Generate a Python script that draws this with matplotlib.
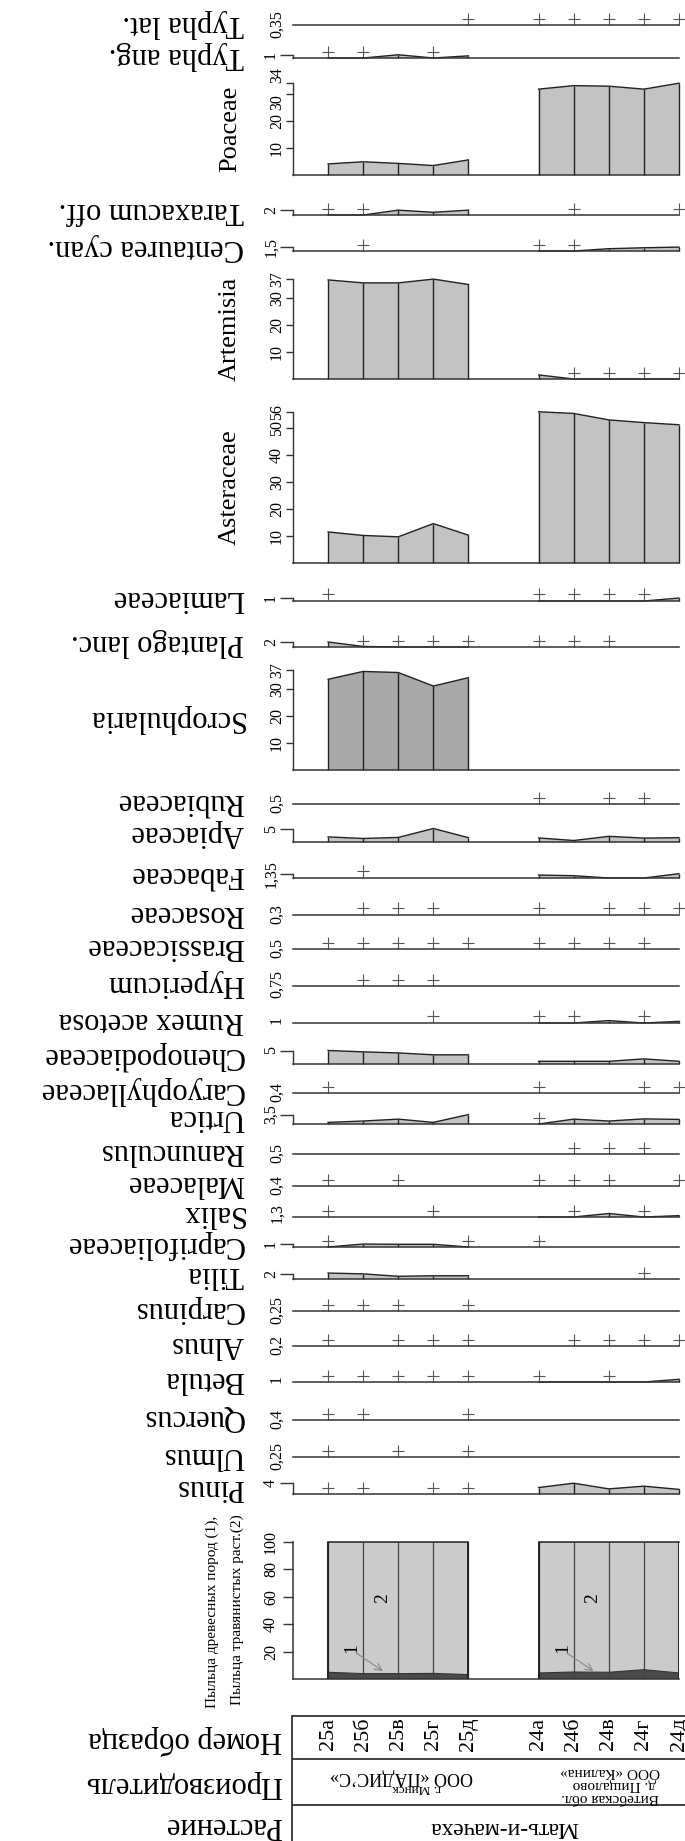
import matplotlib
matplotlib.use('Agg')
import matplotlib.pyplot as plt
import numpy as np
from matplotlib.transforms import ScaledTranslation

plt.rcParams['font.family'] = ['Liberation Serif', 'DejaVu Serif']

# ---------------- data ----------------
samples = ['25а', '25б', '25в', '25г', '25д', '24а', '24б', '24в', '24г', '24д']
sample_pos = [1, 2, 3, 4, 5, 7, 8, 9, 10, 11]
groups = [[0, 1, 2, 3, 4], [5, 6, 7, 8, 9]]

taxa = ['Typha lat.', 'Typha ang.', 'Poaceae', 'Taraxacum off.', 'Centaurea cyan.',
        'Artemisia', 'Asteraceae', 'Lamiaceae', 'Plantago lanc.', 'Scrophularia',
        'Rubiaceae', 'Apiaceae', 'Fabaceae', 'Rosaceae', 'Brassicaceae', 'Hypericum',
        'Rumex acetosa', 'Chenopodiaceae', 'Caryophyllaceae', 'Urtica', 'Ranunculus',
        'Malaceae', 'Salix', 'Caprifoliaceae', 'Tilia', 'Carpinus', 'Alnus', 'Betula',
        'Quercus', 'Ulmus', 'Pinus']

scale_max = {'Typha lat.': 0.35, 'Typha ang.': 1, 'Poaceae': 34, 'Taraxacum off.': 2,
             'Centaurea cyan.': 1.5, 'Artemisia': 37, 'Asteraceae': 56, 'Lamiaceae': 1,
             'Plantago lanc.': 2, 'Scrophularia': 37, 'Rubiaceae': 0.5, 'Apiaceae': 5,
             'Fabaceae': 1.35, 'Rosaceae': 0.3, 'Brassicaceae': 0.5, 'Hypericum': 0.75,
             'Rumex acetosa': 1, 'Chenopodiaceae': 5, 'Caryophyllaceae': 0.4, 'Urtica': 3.5,
             'Ranunculus': 0.5, 'Malaceae': 0.4, 'Salix': 1.3, 'Caprifoliaceae': 1,
             'Tilia': 2, 'Carpinus': 0.25, 'Alnus': 0.2, 'Betula': 1, 'Quercus': 0.4,
             'Ulmus': 0.25, 'Pinus': 4}

major_ticks = {'Poaceae': [10, 20, 30, 34], 'Artemisia': [10, 20, 30, 37],
               'Asteraceae': [10, 20, 30, 40, 50, 56], 'Scrophularia': [10, 20, 30, 37]}

values = {
    'Poaceae':        [4.1, 4.9, 4.3, 3.5, 5.6, 31.8, 33.1, 32.9, 31.8, 34.0],
    'Typha ang.':     [0, 0, 1.2, 0, 0.8, 0, 0, 0, 0, 0],
    'Taraxacum off.': [0, 0, 1.8, 1.0, 1.8, 0, 0, 0, 0, 0],
    'Centaurea cyan.': [0, 0, 0, 0, 0, 0, 0, 0.85, 1.2, 1.45],
    'Artemisia':      [36.7, 35.6, 35.6, 37.0, 35.0, 1.5, 0, 0, 0, 0],
    'Asteraceae':     [11.5, 10.2, 9.7, 14.6, 10.3, 56.0, 55.4, 53.0, 52.0, 51.2],
    'Lamiaceae':      [0, 0, 0, 0, 0, 0, 0, 0, 0, 1.1],
    'Plantago lanc.': [1.85, 0.2, 0, 0, 0, 0, 0, 0, 0, 0],
    'Scrophularia':   [33.6, 36.5, 36.1, 31.1, 34.2, 0, 0, 0, 0, 0],
    'Apiaceae':       [1.9, 1.3, 1.7, 5.0, 1.6, 1.5, 0.55, 2.1, 1.45, 1.6],
    'Fabaceae':       [0, 0, 0, 0, 0, 1.1, 0.85, 0, 0, 1.6],
    'Rumex acetosa':  [0, 0, 0, 0, 0, 0, 0, 0.9, 0, 0.6],
    'Chenopodiaceae': [5.0, 4.5, 4.1, 3.4, 3.4, 1.0, 1.0, 1.0, 1.9, 1.0],
    'Urtica':         [0.6, 1.1, 1.8, 0.6, 3.5, 0, 1.8, 1.1, 1.9, 1.7],
    'Salix':          [0, 0, 0, 0, 0, 0, 0, 1.3, 0, 0.5],
    'Caprifoliaceae': [0, 1.1, 1.0, 1.0, 0, 0, 0, 0, 0, 0],
    'Tilia':          [2.2, 1.9, 1.0, 1.2, 1.2, 0, 0, 0, 0, 0],
    'Betula':         [0, 0, 0, 0, 0, 0, 0, 0, 0, 1.0],
    'Pinus':          [0, 0, 0, 0, 0, 2.4, 4.0, 1.9, 2.9, 1.7],
}

traces = {
    'Typha lat.': ['25д', '24а', '24б', '24в', '24г', '24д'],
    'Typha ang.': ['25а', '25б', '25г'],
    'Taraxacum off.': ['25а', '25б', '24б', '24д'],
    'Centaurea cyan.': ['25б', '24а', '24б'],
    'Artemisia': ['24б', '24в', '24г', '24д'],
    'Lamiaceae': ['25а', '24а', '24б', '24в', '24г'],
    'Plantago lanc.': ['25б', '25в', '25г', '25д', '24а', '24б', '24в'],
    'Rubiaceae': ['24а', '24в', '24г'],
    'Fabaceae': ['25б'],
    'Rosaceae': ['25б', '25в', '25г', '24а', '24в', '24г', '24д'],
    'Brassicaceae': ['25а', '25б', '25в', '25г', '25д', '24а', '24б', '24в', '24г'],
    'Hypericum': ['25б', '25в', '25г'],
    'Rumex acetosa': ['25г', '24а', '24б', '24г'],
    'Caryophyllaceae': ['25а', '24а', '24г', '24д'],
    'Urtica': ['24а'],
    'Ranunculus': ['24б', '24в', '24г'],
    'Malaceae': ['25а', '25в', '24а', '24б', '24в', '24д'],
    'Salix': ['25а', '25г', '24б', '24г'],
    'Caprifoliaceae': ['25а', '25д', '24а'],
    'Tilia': ['24г'],
    'Carpinus': ['25а', '25б', '25в', '25д'],
    'Alnus': ['25а', '25в', '25г', '25д', '24б', '24в', '24г', '24д'],
    'Betula': ['25а', '25б', '25в', '25г', '25д', '24а', '24в'],
    'Quercus': ['25а', '25б', '25д'],
    'Ulmus': ['25а', '25в', '25д'],
    'Pinus': ['25а', '25б', '25г', '25д'],
}

trees_pct = [4.9, 3.9, 3.9, 4.1, 3.2, 4.4, 5.1, 4.9, 6.8, 4.4]
herbs_pct = [100 - t for t in trees_pct]

producers_25 = ['ООО «ПАДИС’С»', 'г. Минск']
producers_24 = ['ООО «Калина»', 'д. Пищалово', 'Витебская обл.']
plant_name = 'Мать-и-мачеха'
headers = ['Номер образца', 'Производитель', 'Растение']
pct_title = ['Пыльца древесных пород (1),', 'Пыльца травянистых раст.(2)']

# ---------------- layout ----------------
W, H = 685, 1841
DPI = 100
X0, X1 = 293, 679
XMAX = 11
PXU = 2.7        # px per percent
PXU100 = 1.373   # px per percent in the summary chart

baseline_px = {'Typha lat.': 25, 'Typha ang.': 58, 'Poaceae': 175, 'Taraxacum off.': 215,
               'Centaurea cyan.': 251, 'Artemisia': 379, 'Asteraceae': 563, 'Lamiaceae': 601,
               'Plantago lanc.': 647, 'Scrophularia': 770, 'Rubiaceae': 804, 'Apiaceae': 842,
               'Fabaceae': 878, 'Rosaceae': 915, 'Brassicaceae': 949, 'Hypericum': 986,
               'Rumex acetosa': 1023, 'Chenopodiaceae': 1064, 'Caryophyllaceae': 1093,
               'Urtica': 1124, 'Ranunculus': 1154, 'Malaceae': 1186, 'Salix': 1217,
               'Caprifoliaceae': 1247, 'Tilia': 1279, 'Carpinus': 1311, 'Alnus': 1346,
               'Betula': 1382, 'Quercus': 1420, 'Ulmus': 1457, 'Pinus': 1494}
base100 = 1679

with_tick = {'Typha ang.', 'Taraxacum off.', 'Centaurea cyan.', 'Lamiaceae', 'Plantago lanc.',
             'Apiaceae', 'Fabaceae', 'Chenopodiaceae', 'Urtica', 'Caprifoliaceae', 'Tilia', 'Pinus'}
rot90_labels = {'Poaceae', 'Artemisia', 'Asteraceae'}

LIGHT = '#c3c3c3'
DARKFILL = '#a9a9a9'
EDGE = '#222222'
AXC = '#333333'
PT = 72.0 / DPI

fig = plt.figure(figsize=(W / DPI, H / DPI), dpi=DPI)


def fy(y):
    return 1 - y / H


def fmt(v):
    s = ('%g' % v)
    return s.replace('.', ',')


for name in taxa:
    ymax = scale_max[name]
    hpx = max(ymax * PXU, 0.3)
    by = baseline_px[name]
    ax = fig.add_axes([X0 / W, fy(by), (X1 - X0) / W, hpx / H])
    ax.set_xlim(0, XMAX)
    ax.set_ylim(0, ymax)
    ax.patch.set_visible(False)
    for s in ['top', 'right']:
        ax.spines[s].set_visible(False)
    ax.spines['bottom'].set_linewidth(1.1)
    ax.spines['bottom'].set_color(AXC)
    ax.spines['left'].set_linewidth(1.0)
    ax.spines['left'].set_color(AXC)
    ax.set_xticks([])
    ticks = major_ticks.get(name, [ymax])
    ax.set_yticks(ticks)
    ax.set_yticklabels([fmt(t) for t in ticks])
    if name in major_ticks:
        tl, pad = 7 * PT, 1 * PT
    elif name in with_tick:
        tl, pad = 13 * PT, 1 * PT
    else:
        tl, pad = 0, 8 * PT
        ax.spines['left'].set_visible(False)
    ax.tick_params(axis='y', length=tl, width=1.0, pad=pad, labelsize=11.5,
                   labelrotation=90, color=AXC)
    plt.setp(ax.get_yticklabels(), va='center')
    if name == 'Poaceae':
        lbls = ax.get_yticklabels()
        lbls[-1].set_va('bottom')
        lbls[-2].set_va('top')

    color = DARKFILL if name == 'Scrophularia' else LIGHT
    vals = np.array(values.get(name, [0] * 10), dtype=float)
    for g in groups:
        v = vals[g]
        xs = [sample_pos[i] for i in g]
        if np.any(v > 0):
            ax.fill_between(xs, 0, v, facecolor=color, edgecolor='none', clip_on=False, zorder=1)
            ax.plot(xs, v, color=EDGE, lw=1.0, clip_on=False, zorder=2)
            ax.vlines(xs, 0, v, colors=EDGE, lw=1.0, clip_on=False, zorder=2)
    tr = traces.get(name, [])
    if tr:
        xs = [sample_pos[samples.index(s)] for s in tr]
        off = ax.transData + ScaledTranslation(0, 6.5 / DPI, fig.dpi_scale_trans)
        ax.plot(xs, [0] * len(xs), ls='none', marker='+', ms=8.5, mew=0.8,
                color='#555555', transform=off, clip_on=False)

    cy = by - hpx / 2
    if name in rot90_labels:
        fig.text(230 / W, fy(cy), name, rotation=90, ha='center', va='center', fontsize=19)
    else:
        fig.text(244 / W, fy(cy - 1.5), name, rotation=180, ha='right', va='center', fontsize=22)

# ---------------- summary chart (trees / herbs) ----------------
h100 = 100 * PXU100
ax = fig.add_axes([X0 / W, fy(base100), (X1 - X0) / W, h100 / H])
ax.set_xlim(0, XMAX)
ax.set_ylim(0, 100)
ax.patch.set_visible(False)
for s in ['top', 'right']:
    ax.spines[s].set_visible(False)
for s in ['bottom', 'left']:
    ax.spines[s].set_linewidth(1.1)
    ax.spines[s].set_color(AXC)
ax.set_xticks([])
ax.set_yticks([20, 40, 60, 80, 100])
ax.tick_params(axis='y', length=10 * PT, width=1.0, pad=4 * PT, labelsize=11.5,
               labelrotation=90, color=AXC)
plt.setp(ax.get_yticklabels(), va='center')
tr_arr = np.array(trees_pct)
hb_arr = np.array(herbs_pct)
for g in groups:
    xs = [sample_pos[i] for i in g]
    t = tr_arr[g]
    top = t + hb_arr[g]
    ax.fill_between(xs, t, top, facecolor='#cbcbcb', edgecolor='none', zorder=1)
    ax.fill_between(xs, 0, t, facecolor='#4a4a4a', edgecolor='none', zorder=1)
    ax.plot(xs, top, color=EDGE, lw=1.1, zorder=3, clip_on=False)
    ax.plot(xs, t, color='#333333', lw=0.8, zorder=3)
    ax.vlines(xs, 0, top, colors='#444444', lw=0.9, zorder=2)
    ax.vlines([xs[0], xs[-1]], 0, top[[0, -1]], colors=EDGE, lw=1.4, zorder=3)
for gi, g in enumerate(groups):
    x1 = sample_pos[g[0]]
    ax.text(x1 + 1.54, 59, '2', rotation=90, ha='center', va='center', fontsize=14)
    ax.text(x1 + 0.68, 22.6, '1', rotation=90, ha='center', va='center', fontsize=14)
    ax.annotate('', xy=(x1 + 1.56, 5.8), xytext=(x1 + 0.8, 19),
                arrowprops=dict(arrowstyle='->,head_length=0.5,head_width=0.25',
                                color='#888888', lw=0.8, shrinkA=0, shrinkB=0))

fig.text(212 / W, fy(1612), pct_title[0], rotation=90, ha='center', va='center', fontsize=11)
fig.text(237 / W, fy(1610), pct_title[1], rotation=90, ha='center', va='center', fontsize=11)

# ---------------- table ----------------
TOP = 1716
unit = (X1 - X0) / XMAX
axt = fig.add_axes([X0 / W, 0, (W - X0) / W, (H - TOP) / H])
axt.set_xlim(0, (W - X0) / unit)
axt.set_ylim(H - TOP, 0)
axt.axis('off')
for yy in [0, 43, 89]:
    axt.axhline(yy, color=AXC, lw=1.3, clip_on=False)
axt.axvline(-1 / unit, color=AXC, lw=1.3, clip_on=False)
for s, p in zip(samples, sample_pos):
    axt.text(p, 18, s, rotation=90, ha='center', va='center', fontsize=16)
c25 = np.mean([sample_pos[i] for i in groups[0]])
c24 = np.mean([sample_pos[i] for i in groups[1]])
axt.text(c25 + 0.1, 61, producers_25[0], rotation=180, ha='center', va='center', fontsize=13)
axt.text(c25 + 0.53, 72, producers_25[1], rotation=180, ha='center', va='center', fontsize=9.5)
axt.text(c24 + 0.04, 55, producers_24[0], rotation=180, ha='center', va='center', fontsize=11)
axt.text(c24 + 0.15, 68, producers_24[1], rotation=180, ha='center', va='center', fontsize=11)
axt.text(c24 + 0.04, 81, producers_24[2], rotation=180, ha='center', va='center', fontsize=11)
axt.text(np.mean(sample_pos), 111, plant_name, rotation=180, ha='center', va='center', fontsize=17)

for txt, yy in zip(headers, [1740, 1784, 1826]):
    fig.text(282 / W, fy(yy), txt, rotation=180, ha='right', va='center', fontsize=22)

fig.savefig('out.png', dpi=DPI)
